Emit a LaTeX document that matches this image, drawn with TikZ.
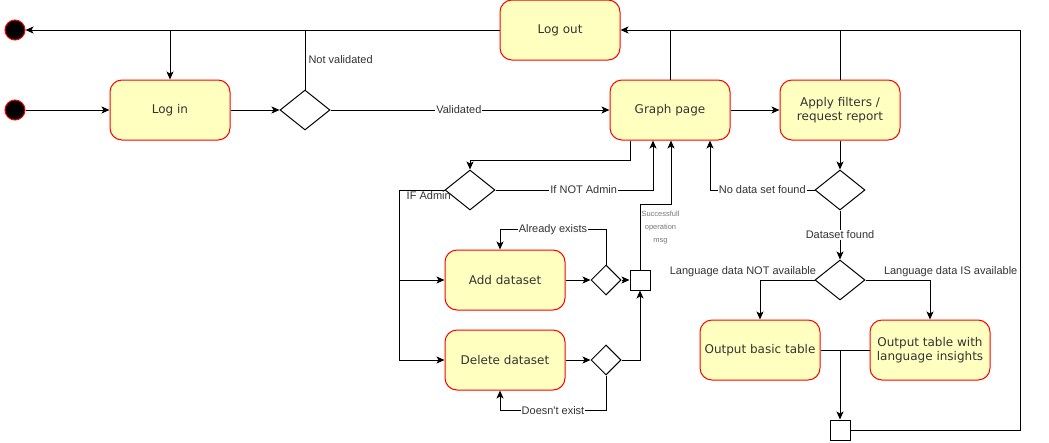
\documentclass[tikz,border=0pt]{standalone}
\usepackage{fontspec}
\setmainfont{DejaVu Sans}
\newfontfamily\lblfont{Liberation Sans}
\usetikzlibrary{shapes.geometric,arrows.meta}
\definecolor{stateFill}{HTML}{FFFFC0}
\definecolor{stateLine}{HTML}{FF0000}
\definecolor{stateText}{HTML}{333333}
\definecolor{msgText}{HTML}{777777}

\begin{document}
\begin{tikzpicture}[x=1pt,y=-1pt,line width=1pt,
  state/.style={draw=stateLine,fill=stateFill,rounded corners=12pt,minimum width=120pt,minimum height=60pt,align=center,text=stateText,font=\fontsize{12}{14.5}\selectfont},
  choice/.style={draw,diamond,minimum width=50pt,minimum height=40pt,inner sep=0pt},
  smallchoice/.style={choice,minimum width=30pt,minimum height=30pt},
  joinbox/.style={draw,minimum size=20pt,inner sep=0pt},
  dot/.style={circle,draw=stateLine,fill=black,minimum size=20pt,inner sep=0pt},
  arr/.style={-{Stealth[length=8pt,width=7pt,inset=2pt]}},
  lbl/.style={fill=white,inner sep=1pt,text=stateText,font=\lblfont\fontsize{11}{13}\selectfont},
  msg/.style={align=center,inner sep=1pt,text=msgText,font=\lblfont\fontsize{7.5}{13}\selectfont}]
  \useasboundingbox (0,0) rectangle (1049,442);
  \node[dot] (stop) at (15,30) {};
  \node[dot] (start) at (15,110) {};
  \node[state] (login) at (170,110) {Log in};
  \node[choice] (valid) at (305,110) {};
  \node[state] (logout) at (560,30) {Log out};
  \node[state] (graph) at (670,110) {Graph page};
  \node[state] (filters) at (840,110) {Apply filters /\\request report};
  \node[choice] (admin) at (470,190) {};
  \node[state] (add) at (505,280) {Add dataset};
  \node[state] (del) at (505,360) {Delete dataset};
  \node[smallchoice] (addchk) at (606,280) {};
  \node[smallchoice] (delchk) at (606,360) {};
  \node[joinbox] (okbox) at (640,280) {};
  \node[choice] (found) at (840,190) {};
  \node[choice] (lang) at (840,280) {};
  \node[state] (basic) at (760,350) {Output basic table};
  \node[state] (insights) at (930,350) {Output table with\\language insights};
  \node[joinbox] (done) at (840,430) {};
  \coordinate (rim) at (1020,30);
  \draw[arr] (start) -- (login);
  \draw[arr] (login) -- (valid);
  \draw[arr] (valid) -- node[lbl,pos=0.46]{Validated} (graph);
  \draw[arr] (logout) -- (stop);
  \draw (valid.north) -- node[lbl,anchor=west,xshift=2pt]{Not validated} (valid.north |- logout.west);
  \draw[arr] (login.north |- logout.west) -- (login.north);
  \draw[arr] (graph) -- (filters);
  \draw (graph.north) -- (graph.north |- logout.east);
  \draw (filters.north) -- (filters.north |- logout.east);
  \draw[arr] (done.east) -| (rim) -- (logout.east);
  \draw[arr] ([xshift=-40pt]graph.south) -- ++(0,20) -| (admin.north);
  \draw[arr] (admin.east) -| node[lbl,pos=0.28]{If NOT Admin} ([xshift=-17pt]graph.south);
  \draw[arr] (admin.west) -- node[lbl,fill=none,below,pos=0.35]{IF Admin} ++(-45,0) |- (add.west);
  \draw[arr] (admin.west) -- ++(-45,0) |- (del.west);
  \draw[arr] (add) -- (addchk);
  \draw[arr] (addchk) -- (okbox);
  \draw[arr] (addchk.north) -- ++(0,-35) -| node[lbl,pos=0.25]{Already exists} ([xshift=-5pt]add.north);
  \draw[arr] (okbox.north) -- node[msg,anchor=west,pos=0.65]{Successfull\\operation\\msg} ++(0,-65) -| ([xshift=1pt]graph.south);
  \draw[arr] (del) -- (delchk);
  \draw[arr] (delchk.east) -| (okbox.south);
  \draw[arr] (delchk.south) -- ++(0,35) -| node[lbl,pos=0.25]{Doesn't exist} ([xshift=-5pt]del.south);
  \draw[arr] (filters) -- (found);
  \draw[arr] (found.west) -| node[lbl,pos=0.25]{No data set found} ([xshift=40pt]graph.south);
  \draw[arr] (found) -- node[lbl]{Dataset found} (lang);
  \draw[arr] (lang.west) -| node[lbl,fill=none,above left,pos=0,xshift=3pt,yshift=2pt]{Language data NOT available} (basic.north);
  \draw[arr] (lang.east) -| node[lbl,fill=none,above right,pos=0,xshift=17pt,yshift=2pt]{Language data IS available} (insights.north);
  \draw (basic.east) -- (insights.west);
  \draw[arr] (basic.east -| done.north) -- (done.north);
\end{tikzpicture}
\end{document}
